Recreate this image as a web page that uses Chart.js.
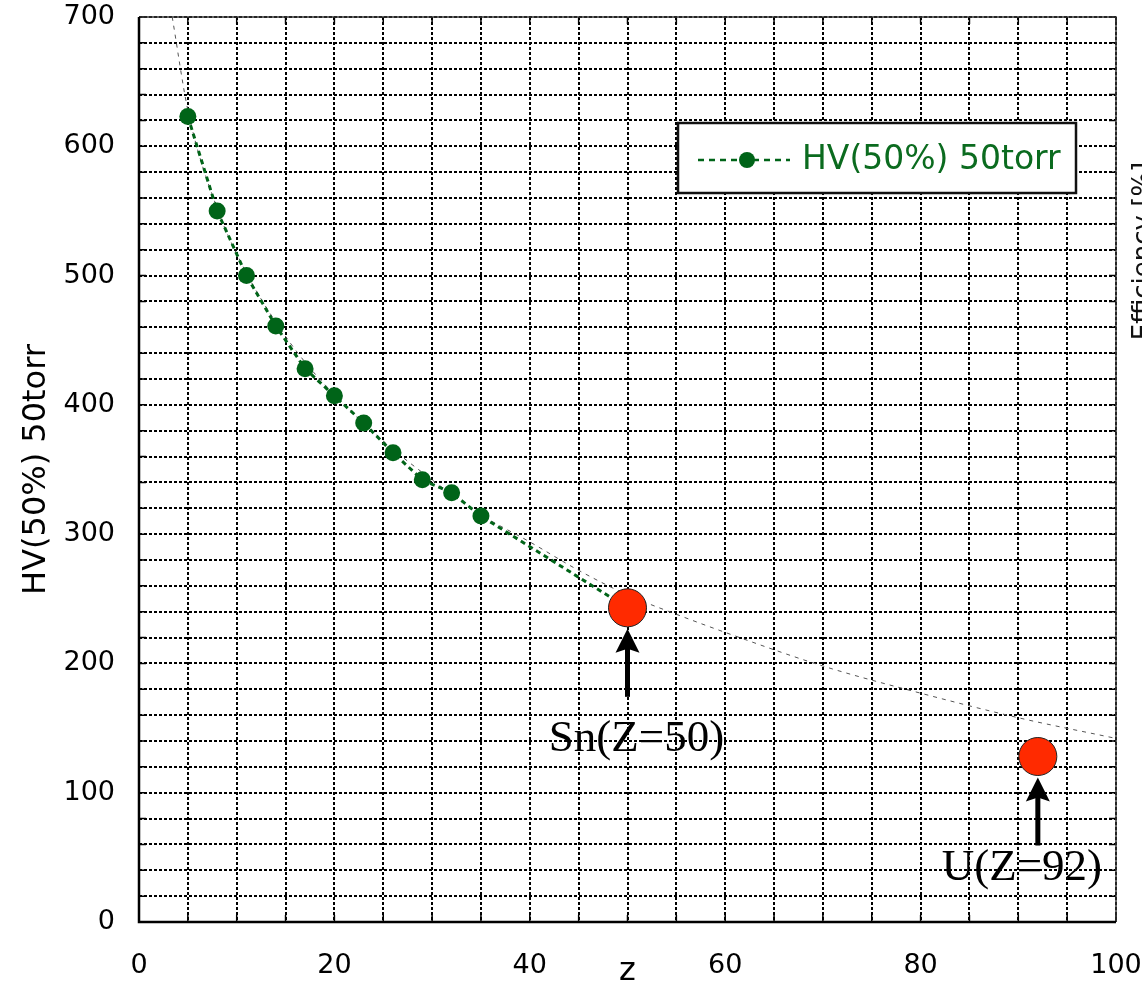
<!DOCTYPE html>
<html>
<head>
<meta charset="utf-8">
<script src="https://cdn.jsdelivr.net/npm/chart.js@4"></script>
<style>
  html, body { margin: 0; padding: 0; background: #fff; }
</style>
</head>
<body>
<canvas id="hv-chart" width="1142" height="984"></canvas>
<script>
// HV(50%) at 50 torr vs Z
var zValues = [5, 8, 11, 14, 17, 20, 23, 26, 29, 32, 35, 50];
var hvValues = [623, 550, 500, 461, 428, 407, 386, 363, 342, 332, 314, 243];

// heavy targets (big red markers)
var heavyLabels = ["Sn(Z=50)", "U(Z=92)"];
var heavyZ = [50, 92];
var heavyHV = [243, 128];

// thin fit curve
var fitZ = [3.4, 5, 8, 11, 14, 17, 20, 25, 30, 35, 40, 45, 50, 55, 60, 70, 80, 90, 100];
var fitHV = [700, 628, 552, 502, 464, 433, 408, 372, 342, 315, 294, 272, 253, 238, 224, 198, 177, 158, 142];

var seriesName = "HV(50%) 50torr";
var green = "#006418";

function toPoints(xs, ys) {
  return xs.map(function (x, i) { return { x: x, y: ys[i] }; });
}

// label placement relative to each red point (px)
var labelOffsets = [{ dx: 9, dy: 143 }, { dx: -16, dy: 123 }];

Chart.defaults.font.family = "'DejaVu Sans', sans-serif";
Chart.defaults.color = "#000";

// frame + inward ticks
var framePlugin = {
  id: "frame",
  beforeDatasetsDraw: function (chart) {
    var ctx = chart.ctx, a = chart.chartArea;
    var xs = chart.scales.x, ys = chart.scales.y;
    ctx.save();
    ctx.strokeStyle = "#000";
    ctx.lineWidth = 1.5;
    xs.ticks.forEach(function (t) {
      var px = xs.getPixelForValue(t.value);
      ctx.beginPath();
      ctx.moveTo(px, a.bottom); ctx.lineTo(px, a.bottom - 7);
      ctx.moveTo(px, a.top); ctx.lineTo(px, a.top + 7);
      ctx.stroke();
    });
    ys.ticks.forEach(function (t) {
      var py = ys.getPixelForValue(t.value);
      ctx.beginPath();
      ctx.moveTo(a.left, py); ctx.lineTo(a.left + 7, py);
      ctx.moveTo(a.right, py); ctx.lineTo(a.right - 7, py);
      ctx.stroke();
    });
    ctx.strokeStyle = "#333";
    ctx.lineWidth = 1.5;
    ctx.beginPath();
    ctx.moveTo(a.left, a.top); ctx.lineTo(a.right, a.top); ctx.lineTo(a.right, a.bottom);
    ctx.stroke();
    ctx.strokeStyle = "#000";
    ctx.lineWidth = 2.5;
    ctx.beginPath();
    ctx.moveTo(a.left, a.top); ctx.lineTo(a.left, a.bottom); ctx.lineTo(a.right, a.bottom);
    ctx.stroke();
    ctx.restore();
  }
};

// arrows and element labels
var notePlugin = {
  id: "notes",
  afterDatasetsDraw: function (chart) {
    var ctx = chart.ctx;
    var xs = chart.scales.x, ys = chart.scales.y;
    ctx.save();
    heavyZ.forEach(function (z, i) {
      var px = xs.getPixelForValue(z);
      var py = ys.getPixelForValue(heavyHV[i]);
      var tip = py + 21;
      // shaft
      ctx.fillStyle = "#000";
      ctx.fillRect(px - 2.5, tip + 18, 5, 50);
      // head
      ctx.beginPath();
      ctx.moveTo(px, tip);
      ctx.lineTo(px + 12, tip + 24);
      ctx.lineTo(px, tip + 20);
      ctx.lineTo(px - 12, tip + 24);
      ctx.closePath();
      ctx.fill();
      // label
      ctx.font = "45px 'Liberation Serif', serif";
      ctx.textAlign = "center";
      ctx.textBaseline = "alphabetic";
      ctx.fillText(heavyLabels[i], px + labelOffsets[i].dx, py + labelOffsets[i].dy);
    });
    ctx.restore();
  }
};

// boxed legend inside the plot + clipped right-hand label
var boxPlugin = {
  id: "box",
  afterDraw: function (chart) {
    var ctx = chart.ctx, a = chart.chartArea;
    var bx = a.right - 438, by = a.top + 106, bw = 398, bh = 70;
    ctx.save();
    ctx.fillStyle = "#fff";
    ctx.fillRect(bx, by, bw, bh);
    ctx.strokeStyle = "#111";
    ctx.lineWidth = 2.5;
    ctx.strokeRect(bx, by, bw, bh);
    var cy = by + bh / 2 + 2;
    ctx.strokeStyle = green;
    ctx.lineWidth = 2.5;
    ctx.setLineDash([6, 5]);
    ctx.beginPath();
    ctx.moveTo(bx + 20, cy); ctx.lineTo(bx + 112, cy);
    ctx.stroke();
    ctx.setLineDash([]);
    ctx.fillStyle = green;
    ctx.beginPath();
    ctx.arc(bx + 69, cy, 8, 0, Math.PI * 2);
    ctx.fill();
    ctx.fillStyle = "#0b6b1f";
    ctx.font = "33px 'DejaVu Sans', sans-serif";
    ctx.textAlign = "left";
    ctx.textBaseline = "middle";
    ctx.fillText(seriesName, bx + 124, cy);

    // secondary axis title, mostly outside the canvas
    ctx.translate(1151, 251);
    ctx.rotate(-Math.PI / 2);
    ctx.fillStyle = "#111";
    ctx.font = "26px 'DejaVu Sans', sans-serif";
    ctx.textAlign = "center";
    ctx.textBaseline = "alphabetic";
    ctx.fillText("Efficiency [%]", 0, 0);
    ctx.restore();
  }
};

var chart = new Chart(document.getElementById("hv-chart").getContext("2d"), {
  type: "scatter",
  data: {
    datasets: [{
      label: "heavy",
      data: toPoints(heavyZ, heavyHV),
      pointRadius: 19,
      pointHoverRadius: 19,
      pointBackgroundColor: "#ff2a00",
      pointBorderColor: "#222",
      pointBorderWidth: 1,
      showLine: false,
      order: 0
    }, {
      label: seriesName,
      data: toPoints(zValues, hvValues),
      showLine: true,
      borderColor: green,
      borderWidth: 3,
      borderDash: [5, 4],
      pointRadius: 8.5,
      pointBackgroundColor: green,
      pointBorderColor: green,
      pointBorderWidth: 0,
      order: 1
    }, {
      label: "fit",
      data: toPoints(fitZ, fitHV),
      showLine: true,
      borderColor: "#555",
      borderWidth: 1,
      borderDash: [4, 5],
      cubicInterpolationMode: "monotone",
      pointRadius: 0,
      order: 2
    }]
  },
  options: {
    responsive: false,
    animation: false,
    layout: { autoPadding: false, padding: { left: 0, right: 26, top: 17, bottom: 0 } },
    plugins: {
      legend: { display: false },
      tooltip: { enabled: false }
    },
    scales: {
      x: {
        type: "linear",
        min: 0,
        max: 100,
        afterFit: function (s) { s.height = 62; },
        grid: { color: "#000", lineWidth: 2, drawTicks: true, tickLength: 28, tickColor: "rgba(0,0,0,0)" },
        border: { display: false, dash: [3, 2] },
        ticks: {
          stepSize: 5,
          autoSkip: false,
          maxRotation: 0,
          padding: 0,
          font: { size: 27 },
          callback: function (v) { return v % 20 === 0 ? v : ""; }
        },
        title: {
          display: true,
          text: "z",
          font: { size: 32 },
          padding: { top: 0, bottom: -7 }
        }
      },
      y: {
        min: 0,
        max: 700,
        afterFit: function (s) { s.width = 139; },
        grid: { color: "#000", lineWidth: 2, drawTicks: true, tickLength: 24, tickColor: "rgba(0,0,0,0)" },
        border: { display: false, dash: [3, 2] },
        ticks: {
          stepSize: 20,
          autoSkip: false,
          padding: 0,
          font: { size: 27 },
          callback: function (v) { return v % 100 === 0 ? v : ""; }
        },
        title: {
          display: true,
          text: seriesName,
          font: { size: 32 },
          padding: { top: 17, bottom: 0 }
        }
      }
    }
  },
  plugins: [framePlugin, notePlugin, boxPlugin]
});
</script>
</body>
</html>
